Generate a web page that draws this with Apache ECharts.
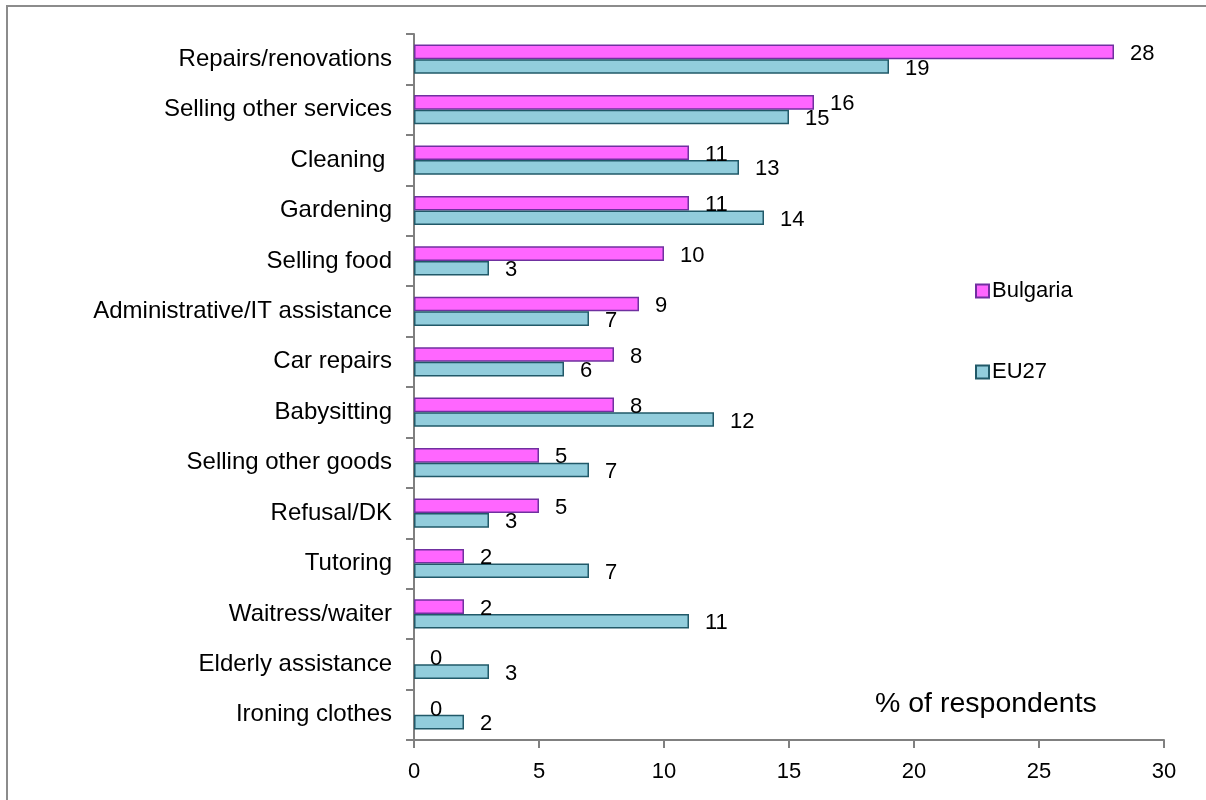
<!DOCTYPE html>
<html>
<head>
<meta charset="utf-8">
<script src="https://cdn.jsdelivr.net/npm/echarts@6/dist/echarts.min.js"></script>
<style>html,body{margin:0;padding:0;background:#fff}#c{width:1206px;height:800px}</style>
</head>
<body>
<div id="c"></div>
<script>
const categories = ["Repairs/renovations","Selling other services","Cleaning ","Gardening","Selling food","Administrative/IT assistance","Car repairs","Babysitting","Selling other goods","Refusal/DK","Tutoring","Waitress/waiter","Elderly assistance","Ironing clothes"];
const bulgaria = [28,16,11,11,10,9,8,8,5,5,2,2,0,0];
const eu27 = [19,15,13,14,3,7,6,12,7,3,7,11,3,2];
const xTicks = [0,5,10,15,20,25,30];

const font = "'Liberation Sans', Arial, sans-serif";
const withZeroNoBorder = arr => arr.map(v => v === 0 ? {value: v, itemStyle: {borderWidth: 0}} : v);
const chart = echarts.init(document.getElementById('c'), null, {renderer:'canvas'});
chart.setOption({
  animation:false,
  backgroundColor:'#fff',
  graphic:[{type:'rect',shape:{x:7,y:6,width:1230,height:830},style:{fill:'none',stroke:'#8c8c8c',lineWidth:2},silent:true},
    {type:'text',left:875,top:690,style:{text:'% of respondents',font:"28.5px "+font,fill:'#000'}}],
  grid:{left:414,right:42,top:34,bottom:60,containLabel:false},
  legend:{orient:'vertical',left:970,top:275,itemGap:59,itemWidth:13,itemHeight:13,
    textStyle:{fontFamily:font,fontSize:22,color:'#000',padding:[0,0,0,-2]},
    data:[{name:'Bulgaria',icon:'rect'},{name:'EU27',icon:'rect'}]},
  xAxis:{type:'value',min:0,max:30,interval:5,
    axisLine:{show:true,lineStyle:{color:'#808080',width:2}},
    axisTick:{show:true,length:8,lineStyle:{color:'#808080',width:2}},
    splitLine:{show:false},
    axisLabel:{fontFamily:font,fontSize:22,color:'#000',margin:21,
      formatter:v=>xTicks.includes(v)?String(v):''}},
  yAxis:{type:'category',data:categories,inverse:true,
    axisLine:{show:true,lineStyle:{color:'#808080',width:2}},
    axisTick:{show:true,length:8,lineStyle:{color:'#808080',width:2}},
    axisLabel:{fontFamily:font,fontSize:24,color:'#000',margin:22}},
  series:[
    {name:'Bulgaria',type:'bar',data:withZeroNoBorder(bulgaria),barGap:'0%',barCategoryGap:'42%',
      itemStyle:{color:'#FF66FF',borderColor:'#7030A0',borderWidth:1.5},
      label:{show:true,position:'right',distance:16,fontFamily:font,fontSize:22,color:'#000',offset:[0,2]}},
    {name:'EU27',type:'bar',data:withZeroNoBorder(eu27),barGap:'0%',barCategoryGap:'42%',
      itemStyle:{color:'#92CDDC',borderColor:'#215968',borderWidth:1.5},
      label:{show:true,position:'right',distance:16,fontFamily:font,fontSize:22,color:'#000',offset:[0,2]}}
  ]
});
</script>
</body>
</html>
